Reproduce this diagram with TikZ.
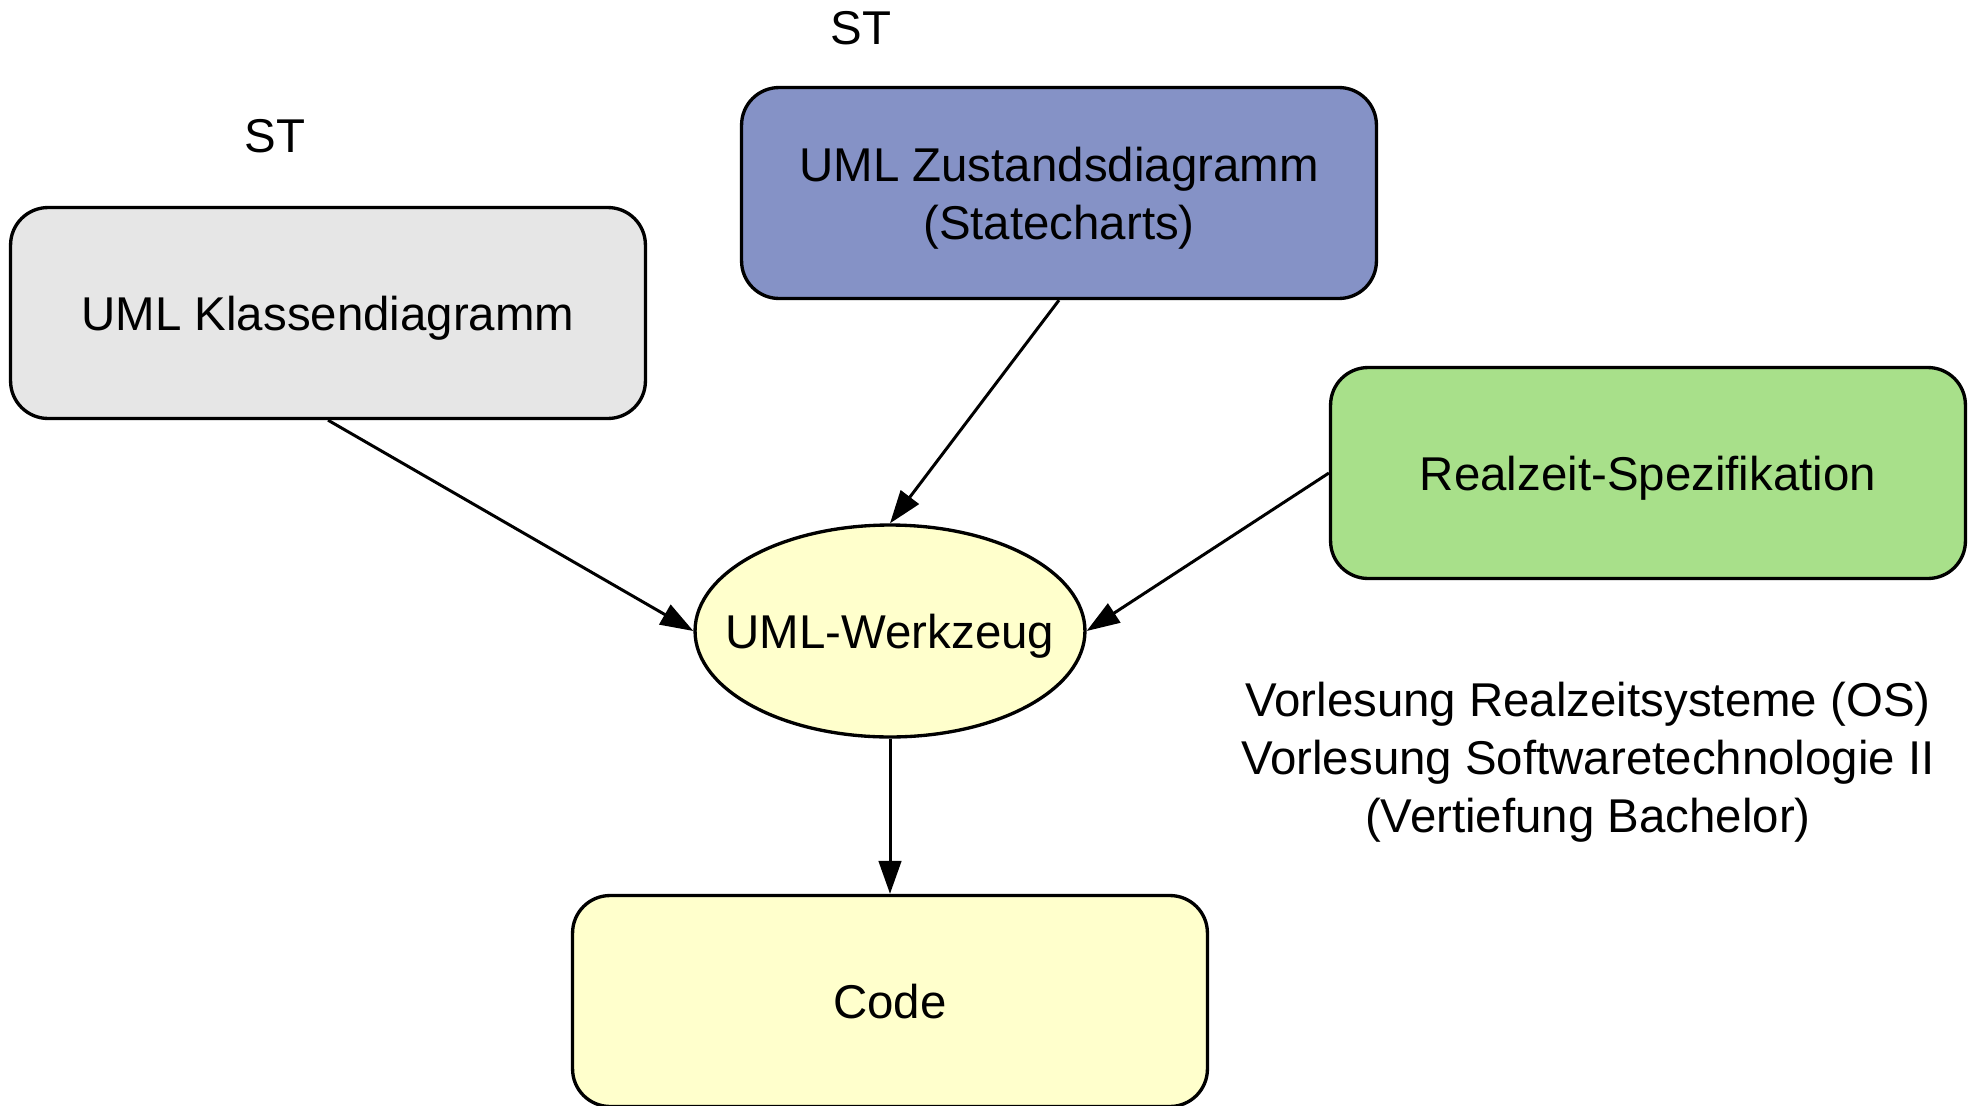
\documentclass[tikz,border=0pt]{standalone}
\usepackage{fontspec}
\setmainfont{Liberation Sans}
\usepackage{tikz}
\usetikzlibrary{positioning, arrows.meta, shapes.geometric}

\definecolor{klassgray}{HTML}{E6E6E6}
\definecolor{zustblue}{HTML}{8592C6}
\definecolor{zeitgreen}{HTML}{A8E08A}
\definecolor{codeyellow}{HTML}{FFFFCC}

\begin{document}
\begin{tikzpicture}[x=0.02cm, y=-0.02cm,
    font=\fontsize{27}{33}\selectfont,
    umlbox/.style={rectangle, rounded corners=0.75cm, draw, line width=1.9pt,
        minimum width=12.7cm, minimum height=4.22cm, align=center, text depth=-4.3pt},
    toolnode/.style={ellipse, draw, line width=1.9pt, fill=codeyellow,
        minimum width=7.8cm, minimum height=4.24cm, inner sep=0pt, text depth=-0.5pt},
    flow/.style={-{Triangle[length=6.6mm, width=4.5mm]}, line width=1.7pt}]
    \useasboundingbox (0,0) rectangle (1972,1106);

    \node[umlbox, fill=klassgray] (klassen) at (328, 313) {UML Klassendiagramm};
    \node[umlbox, fill=zustblue] (zustand) at (1059, 193) {UML Zustandsdiagramm\\(Statecharts)};
    \node[umlbox, fill=zeitgreen] (realzeit) at (1648, 473) {Realzeit-Spezifikation};
    \node[toolnode] (werkzeug) at (890, 631) {\makebox[0pt]{UML-Werkzeug}};
    \node[umlbox, fill=codeyellow] (code) at (890, 1001) {Code};

    \node (stklassen) at (275, 136) {ST};
    \node (stzustand) at (861, 28) {ST};
    \node[align=center] (vorlesung) at (1588, 762) {Vorlesung Realzeitsysteme (OS)\\Vorlesung Softwaretechnologie II\\(Vertiefung Bachelor)};

    \draw[flow] (klassen.south) -- (werkzeug.west);
    \draw[flow] (zustand.south) -- (werkzeug.north);
    \draw[flow] (realzeit.west) -- (werkzeug.east);
    \draw[flow] (werkzeug.south) -- (code.north);
\end{tikzpicture}
\end{document}
